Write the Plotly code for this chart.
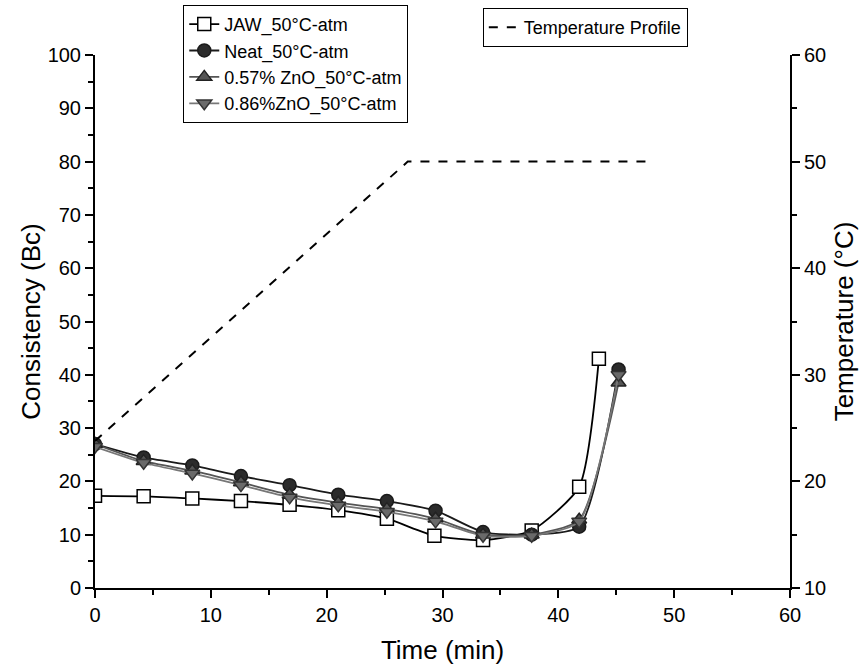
import plotly.graph_objects as go

# ---- data ----
time_jaw = [0, 4.2, 8.4, 12.6, 16.8, 21.0, 25.2, 29.3, 33.5, 37.7, 41.8, 43.5]
jaw = [17.3, 17.2, 16.8, 16.3, 15.6, 14.6, 13.0, 9.8, 9.0, 10.8, 19.0, 43.0]

time_zno = [0, 4.2, 8.4, 12.6, 16.8, 21.0, 25.2, 29.4, 33.5, 37.7, 41.8, 45.2]
neat = [27.0, 24.5, 23.0, 21.0, 19.3, 17.5, 16.3, 14.5, 10.5, 10.0, 11.5, 41.0]
zno057 = [27.0, 23.8, 22.0, 19.8, 17.5, 16.0, 14.8, 13.0, 10.0, 10.0, 12.8, 38.5]
zno086 = [26.5, 23.5, 21.5, 19.3, 17.0, 15.5, 14.3, 12.5, 9.8, 9.8, 12.5, 40.0]

temp_time = [0, 27.0, 47.8]
temp_vals = [23.8, 50.0, 50.0]

FONT = "Arial"

fig = go.Figure()

series = [
    ("JAW_50°C-atm", time_jaw, jaw, "square", "white", "black", "black"),
    ("Neat_50°C-atm", time_zno, neat, "circle", "#2b2b2b", "#1a1a1a", "#1a1a1a"),
    ("0.57% ZnO_50°C-atm", time_zno, zno057, "triangle-up", "#555555", "#222222", "#555555"),
    ("0.86%ZnO_50°C-atm", time_zno, zno086, "triangle-down", "#6a6a6a", "#333333", "#777777"),
]
for name, t, v, sym, fill, edge, lc in series:
    fig.add_trace(go.Scatter(
        x=t, y=v, name=name, mode="lines+markers",
        line=dict(color=lc, width=1.8, shape="spline", smoothing=0.6),
        marker=dict(symbol=sym, size=13, color=fill, line=dict(color=edge, width=1.5)),
        legend="legend",
    ))

fig.add_trace(go.Scatter(
    x=temp_time, y=temp_vals, name="Temperature Profile", mode="lines",
    line=dict(color="black", width=2, dash="dash"),
    yaxis="y2", legend="legend2",
))

axis_common = dict(
    showline=True, linecolor="black", linewidth=2,
    ticks="outside", ticklen=8, tickwidth=2, tickcolor="black",
    showgrid=False, zeroline=False, automargin=False,
    tickfont=dict(family=FONT, size=20, color="black"),
)
minor = dict(ticks="outside", ticklen=5, tickwidth=1.5, dtick=5, tickcolor="black")

fig.update_layout(
    width=863, height=667,
    paper_bgcolor="white", plot_bgcolor="white",
    margin=dict(l=95, r=73, t=55, b=79, autoexpand=False),
    font=dict(family=FONT, color="black"),
    xaxis=dict(range=[0, 60], dtick=10, minor=minor,
               title=dict(text="Time (min)", font=dict(family=FONT, size=26), standoff=16),
               **axis_common),
    yaxis=dict(range=[0, 100], dtick=10, minor=minor,
               title=dict(text="Consistency (Bc)", font=dict(family=FONT, size=26), standoff=0),
               **axis_common),
    yaxis2=dict(range=[10, 60], dtick=10, overlaying="y", side="right", minor=minor,
                title=dict(text="Temperature (°C)", font=dict(family=FONT, size=26), standoff=10),
                **axis_common),
    legend=dict(x=0.127, y=1.094, xanchor="left", yanchor="top",
                bgcolor="white", bordercolor="black", borderwidth=1,
                font=dict(family=FONT, size=18, color="black"),
                tracegroupgap=0, itemsizing="trace"),
    legend2=dict(x=0.558, y=1.088, xanchor="left", yanchor="top",
                 bgcolor="white", bordercolor="black", borderwidth=1,
                 font=dict(family=FONT, size=18, color="black")),
    showlegend=True,
)

fig.write_html("out.html", config={"displayModeBar": False},
               post_script="document.body.style.margin='0';")
